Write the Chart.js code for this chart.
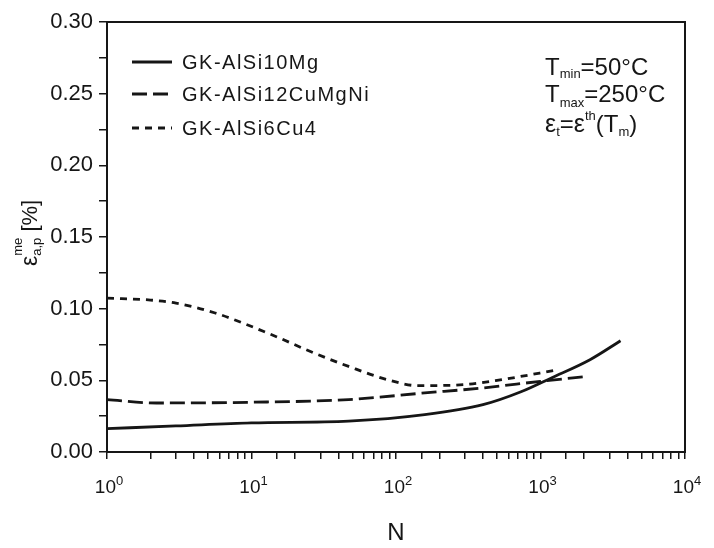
<!DOCTYPE html>
<html>
<head>
<meta charset="utf-8">
<script src="https://cdn.jsdelivr.net/npm/chart.js@4.4.1/dist/chart.umd.min.js"></script>
<style>
  html, body { margin: 0; padding: 0; background: #fff; }
</style>
</head>
<body>
<canvas id="chart" width="714" height="548"></canvas>
<script>
// series names (legend order)
const seriesNames = ['GK-AlSi10Mg', 'GK-AlSi12CuMgNi', 'GK-AlSi6Cu4'];

// GK-AlSi10Mg (solid)
const cyclesSolid = [1, 3, 10, 47, 158, 400, 733, 1190, 2200, 3580];
const strainSolid = [0.0163, 0.0182, 0.0203, 0.0215, 0.026, 0.033, 0.042, 0.0517, 0.0644, 0.0776];

// GK-AlSi12CuMgNi (long dash)
const cyclesLong = [1, 2.2, 10, 47, 158, 400, 1000, 2130];
const strainLong = [0.0366, 0.0342, 0.0347, 0.0366, 0.0412, 0.0447, 0.0493, 0.0528];

// GK-AlSi6Cu4 (short dash)
const cyclesShort = [1, 2, 3, 5.6, 13.8, 27, 47, 87, 141, 294, 540, 1340];
const strainShort = [0.1074, 0.106, 0.1039, 0.097, 0.0818, 0.0691, 0.0597, 0.0505, 0.0463, 0.047, 0.0505, 0.0575];

// axis ranges and labelled decades
const xMin = 1, xMax = 10000;
const xDecades = [0, 1, 2, 3, 4];
const yMin = 0, yMax = 0.30, yStep = 0.025;

const ink = '#161616';
const font = '"Liberation Sans", Arial, Helvetica, sans-serif';

const toPoints = (xs, ys) => xs.map((x, i) => ({ x: x, y: ys[i] }));

function drawRich(ctx, x, y, parts) {
  // parts: [text, size, dy]
  let cx = x;
  parts.forEach(p => {
    ctx.font = p[1] + 'px ' + font;
    ctx.fillText(p[0], cx, y + p[2]);
    cx += ctx.measureText(p[0]).width;
  });
  return cx;
}

function richWidth(ctx, parts) {
  let w = 0;
  parts.forEach(p => {
    ctx.font = p[1] + 'px ' + font;
    w += ctx.measureText(p[0]).width;
  });
  return w;
}

const decorPlugin = {
  id: 'decor',
  afterDraw(chart) {
    const { ctx, chartArea: a } = chart;
    ctx.save();
    ctx.strokeStyle = ink;
    ctx.fillStyle = ink;
    ctx.lineWidth = 2;
    ctx.strokeRect(a.left, a.top, a.right - a.left, a.bottom - a.top);

    // decade labels 10^k under the x axis
    ctx.textBaseline = 'alphabetic';
    const xs = chart.scales.x;
    xDecades.forEach(k => {
      const parts = [['10', 19, 0], [String(k), 13, -8]];
      const w = richWidth(ctx, parts);
      drawRich(ctx, xs.getPixelForValue(Math.pow(10, k)) - w / 2 + 2, a.bottom + 41, parts);
    });

    // legend inside the plot
    const rows = [62, 94, 128];
    ctx.textBaseline = 'middle';
    chart.data.datasets.forEach((ds, i) => {
      ctx.save();
      ctx.lineWidth = ds.borderWidth;
      ctx.setLineDash(ds.borderDash || []);
      ctx.beginPath();
      ctx.moveTo(132, rows[i]);
      ctx.lineTo(172, rows[i]);
      ctx.stroke();
      ctx.restore();
      ctx.font = '20px ' + font;
      ctx.letterSpacing = '1.5px';
      ctx.fillText(ds.label, 182, rows[i] + 1);
      ctx.letterSpacing = '0px';
    });

    // test conditions
    ctx.textBaseline = 'alphabetic';
    drawRich(ctx, 545, 75, [['T', 24, 0], ['min', 13, 3], ['=50°C', 24, 0]]);
    drawRich(ctx, 545, 102, [['T', 24, 0], ['max', 13, 5], ['=250°C', 24, 0]]);
    drawRich(ctx, 545, 132, [['ε', 25, 0], ['t', 13, 4], ['=', 24, 0], ['ε', 25, 0], ['th', 13, -12],
      ['(', 24, 0], ['T', 24, 0], ['m', 13, 4], [')', 24, 0]]);

    // y axis title
    ctx.translate(37, 266);
    ctx.rotate(-Math.PI / 2);
    let cx = drawRich(ctx, 0, 0, [['ε', 23, 0]]);
    drawRich(ctx, cx, 0, [['me', 13, -15]]);
    cx = drawRich(ctx, cx, 0, [['a,p', 13, 4]]);
    drawRich(ctx, cx, 0, [[' [%]', 22, 0]]);
    ctx.restore();
  }
};

new Chart(document.getElementById('chart').getContext('2d'), {
  type: 'line',
  data: {
    datasets: [
      { label: seriesNames[0], data: toPoints(cyclesSolid, strainSolid), borderColor: ink, borderWidth: 2.8, borderDash: [] },
      { label: seriesNames[1], data: toPoints(cyclesLong, strainLong), borderColor: ink, borderWidth: 2.8, borderDash: [15, 6] },
      { label: seriesNames[2], data: toPoints(cyclesShort, strainShort), borderColor: ink, borderWidth: 2.8, borderDash: [7, 6] }
    ]
  },
  options: {
    responsive: false,
    animation: false,
    layout: { padding: { top: 22, right: 29, left: 0, bottom: 0 } },
    elements: {
      point: { radius: 0 },
      line: { cubicInterpolationMode: 'monotone', fill: false }
    },
    plugins: { legend: { display: false }, tooltip: { enabled: false } },
    scales: {
      x: {
        type: 'logarithmic',
        min: xMin,
        max: xMax,
        afterFit: s => { s.height = 96; },
        grid: { drawOnChartArea: false, drawTicks: true, tickLength: 7, color: ink, lineWidth: 1.5 },
        border: { display: true, color: ink, width: 2 },
        ticks: {
          autoSkip: false,
          maxRotation: 0,
          padding: 10,
          color: ink,
          font: { family: font, size: 19 },
          callback: () => ''
        },
        title: { display: true, text: 'N', color: ink, font: { family: font, size: 24 }, padding: { top: 4, bottom: 0 } }
      },
      y: {
        min: yMin,
        max: yMax,
        afterFit: s => { s.width = 107; },
        grid: { drawOnChartArea: false, drawTicks: true, tickLength: 8, color: ink, lineWidth: 1.5 },
        border: { display: true, color: ink, width: 2 },
        ticks: {
          stepSize: yStep,
          padding: 6,
          color: ink,
          font: { family: font, size: 22 },
          callback: (v, i) => (i % 2 === 0 ? v.toFixed(2) : '')
        }
      }
    }
  },
  plugins: [decorPlugin]
});
</script>
</body>
</html>
